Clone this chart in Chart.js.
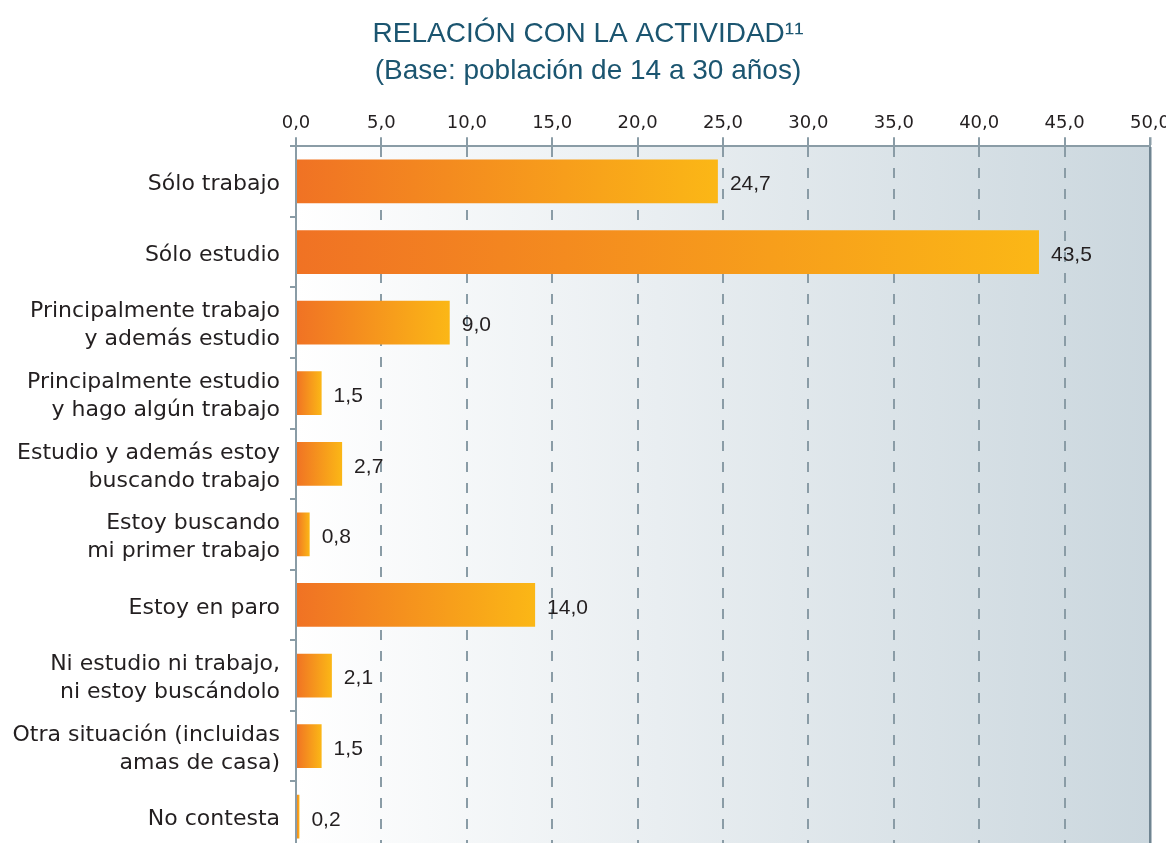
<!DOCTYPE html>
<html>
<head>
<meta charset="utf-8">
<script src="https://cdn.jsdelivr.net/npm/chart.js@4.4.1/dist/chart.umd.min.js"></script>
<style>
  html, body { margin: 0; padding: 0; background: #fff; overflow: hidden; }
  canvas { display: block; }
</style>
</head>
<body>
<canvas id="activity-chart" width="1177" height="876"></canvas>
<script>
// data
var categories = [
  'Sólo trabajo',
  'Sólo estudio',
  ['Principalmente trabajo', 'y además estudio'],
  ['Principalmente estudio', 'y hago algún trabajo'],
  ['Estudio y además estoy', 'buscando trabajo'],
  ['Estoy buscando', 'mi primer trabajo'],
  'Estoy en paro',
  ['Ni estudio ni trabajo,', 'ni estoy buscándolo'],
  ['Otra situación (incluidas', 'amas de casa)'],
  'No contesta'
];
var percentages = [24.7, 43.5, 9.0, 1.5, 2.7, 0.8, 14.0, 2.1, 1.5, 0.2];
var tickLabels = ['0,0', '5,0', '10,0', '15,0', '20,0', '25,0', '30,0', '35,0', '40,0', '45,0', '50,0'];

var textColor = '#231f20';
var lineColor = '#8a9ca6';

function comma(v) {
  return v.toFixed(1).replace('.', ',');
}

// chart area background: white fading to grey-blue
var plotBackground = {
  id: 'plotBackground',
  afterLayout: function(chart) {
    // let the long category labels use the left padding too
    chart.scales.y.left = 0;
  },
  beforeDraw: function(chart) {
    var a = chart.chartArea;
    var ctx = chart.ctx;
    var g = ctx.createLinearGradient(a.left, 0, a.right, 0);
    g.addColorStop(0, '#ffffff');
    g.addColorStop(1, '#cbd7de');
    ctx.save();
    ctx.fillStyle = g;
    ctx.fillRect(a.left, a.top, a.right - a.left, a.bottom - a.top);
    ctx.restore();
  }
};

// value next to each bar
var valueLabels = {
  id: 'valueLabels',
  afterDatasetsDraw: function(chart) {
    var ctx = chart.ctx;
    var meta = chart.getDatasetMeta(0);
    ctx.save();
    ctx.font = '21px "Liberation Sans", Arial, sans-serif';
    ctx.fillStyle = textColor;
    ctx.textAlign = 'left';
    ctx.textBaseline = 'middle';
    meta.data.forEach(function(bar, i) {
      ctx.fillText(comma(percentages[i]), bar.x + 12, bar.y + 3);
    });
    ctx.restore();
  }
};

var ctx = document.getElementById('activity-chart');
window.activityChart = new Chart(ctx, {
  type: 'bar',
  data: {
    labels: categories,
    datasets: [{
      data: percentages,
      backgroundColor: function(context) {
        var chart = context.chart;
        if (!chart.chartArea || context.raw === undefined) return '#f6a01e';
        var xs = chart.scales.x;
        var x0 = xs.getPixelForValue(0);
        var x1 = xs.getPixelForValue(context.raw);
        var g = chart.ctx.createLinearGradient(x0, 0, x1, 0);
        g.addColorStop(0, '#f07224');
        g.addColorStop(1, '#fbb716');
        return g;
      },
      borderWidth: 0,
      barPercentage: 0.62,
      categoryPercentage: 1
    }]
  },
  plugins: [plotBackground, valueLabels],
  options: {
    indexAxis: 'y',
    responsive: false,
    animation: false,
    layout: {
      padding: { left: 26, right: 27, top: 0, bottom: 10 }
    },
    plugins: {
      legend: { display: false },
      tooltip: { enabled: false },
      title: {
        display: true,
        text: 'RELACIÓN CON LA ACTIVIDAD¹¹',
        color: '#1b5570',
        font: { family: '"Liberation Sans", Arial, sans-serif', size: 28, weight: 'normal', lineHeight: 1.2 },
        padding: { top: 17, bottom: 4 }
      },
      subtitle: {
        display: true,
        text: '(Base: población de 14 a 30 años)',
        color: '#1b5570',
        font: { family: '"Liberation Sans", Arial, sans-serif', size: 28, weight: 'normal', lineHeight: 1.2 },
        padding: { top: 0, bottom: 7 }
      }
    },
    scales: {
      x: {
        position: 'top',
        min: 0,
        max: 50,
        afterFit: function(scale) { scale.height = 51; },
        ticks: {
          stepSize: 5,
          color: textColor,
          padding: 3,
          font: { family: '"DejaVu Sans", sans-serif', size: 18 },
          callback: function(value, index) { return tickLabels[index]; }
        },
        grid: {
          drawOnChartArea: true,
          drawTicks: true,
          tickLength: 9,
          tickBorderDash: [],
          tickColor: lineColor,
          lineWidth: function(c) { return c.index === tickLabels.length - 1 ? 2.5 : 2; },
          color: function(c) { return c.index === tickLabels.length - 1 ? '#6f8491' : lineColor; }
        },
        border: {
          display: true,
          color: lineColor,
          width: 2,
          dash: function(c) { return c.index === tickLabels.length - 1 ? [] : [10, 11]; }
        }
      },
      y: {
        afterFit: function(scale) { scale.width = 270; },
        ticks: {
          color: textColor,
          padding: 10,
          labelOffset: 3,
          font: { family: '"DejaVu Sans", sans-serif', size: 22, lineHeight: 1.27 }
        },
        grid: {
          offset: true,
          drawOnChartArea: false,
          drawTicks: true,
          tickLength: 6,
          color: lineColor,
          lineWidth: 2
        },
        border: {
          display: true,
          color: lineColor,
          width: 2
        }
      }
    }
  }
});
</script>
</body>
</html>
